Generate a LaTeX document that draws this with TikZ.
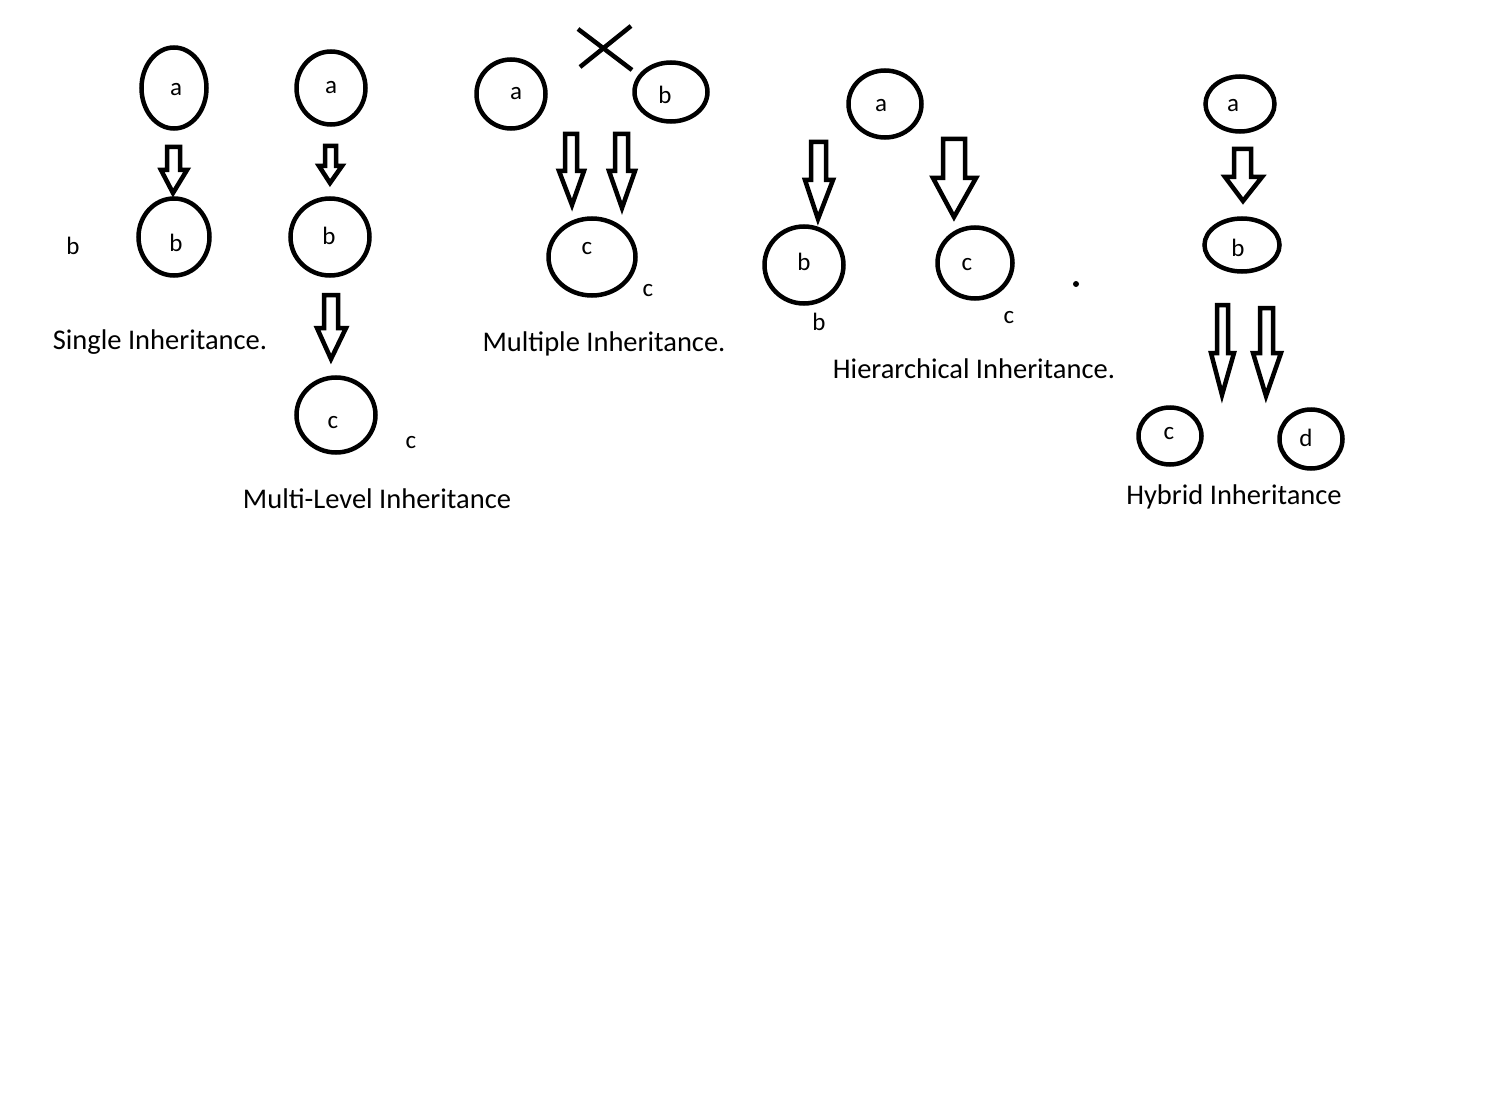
\documentclass[tikz,border=0pt]{standalone}
\usepackage{fontspec}
\setmainfont{Carlito}
\usetikzlibrary{shapes.geometric}
\tikzset{
  ell/.style={draw, line width=4.5pt, ellipse, inner sep=0pt, outer sep=0pt},
  lbl/.style={font=\fontsize{25}{30}\selectfont, inner sep=0pt, anchor=center},
  captxt/.style={font=\fontsize{28.5}{34}\selectfont, inner sep=0pt, anchor=base},
  blk/.style={draw, line width=4.5pt, fill=white, line join=miter, miter limit=12},
  xline/.style={draw, line width=4.5pt},
}
% #1 shaft left, #2 shaft right, #3 top, #4 head base, #5 head left, #6 head right, #7 tip x, #8 tip y
\newcommand\blkarrow[8]{%
  \draw[blk] (#1,#3) -- (#2,#3) -- (#2,#4) -- (#6,#4) -- (#7,#8) -- (#5,#4) -- (#1,#4) -- cycle;}
\begin{document}
\begin{tikzpicture}[x=1pt,y=-1pt]
\useasboundingbox[fill=white] (0,0) rectangle (1500,1113);

% ---------- Single inheritance ----------
\node[ell, minimum width=65pt, minimum height=81pt] (sa) at (174,88) {};
\node[ell, minimum width=71pt, minimum height=77pt] (sb) at (174,237) {};
\node[lbl] (sal) at (176,90) {a};
\node[lbl] (sbl) at (176,243) {b};
\node[lbl] (sbo) at (73,246) {b};
\blkarrow{167}{180}{147}{170}{161}{187}{173}{193}
\node[captxt] (scap) at (160,349) {Single Inheritance.};

% ---------- Multi-level inheritance ----------
\node[ell, minimum width=69pt, minimum height=73pt] (ma) at (331,88) {};
\node[ell, minimum width=79pt, minimum height=77pt] (mb) at (330,237) {};
\node[ell, minimum width=79pt, minimum height=75pt] (mc) at (336,415) {};
\node[lbl] (mal) at (331,88) {a};
\node[lbl] (mbl) at (329,236) {b};
\node[lbl] (mcl) at (333,423) {c};
\node[lbl] (mco) at (411,443) {c};
\blkarrow{325}{336}{146}{166}{319}{342}{330}{183}
\blkarrow{324}{338}{295}{328}{317}{346}{331}{359}
\node[captxt] (mcap) at (377,508) {Multi-Level Inheritance};

% ---------- Multiple inheritance ----------
\node[ell, minimum width=69pt, minimum height=69pt] (pa) at (511,94) {};
\node[ell, minimum width=73pt, minimum height=59pt] (pb) at (671,92) {};
\node[ell, minimum width=87pt, minimum height=77pt] (pc) at (592,257) {};
\node[lbl] (pal) at (516,94) {a};
\node[lbl] (pbl) at (665,95) {b};
\node[lbl] (pcl) at (587,249) {c};
\node[lbl] (pco) at (648,291) {c};
\draw[xline] (578,29) -- (632,70);
\draw[xline] (631,26) -- (580,67);
\blkarrow{565}{577}{134}{171}{559}{584}{572}{205}
\blkarrow{615}{628}{134}{171}{609}{635}{622}{208}
\node[captxt] (pcap) at (604,351) {Multiple Inheritance.};

% ---------- Hierarchical inheritance ----------
\node[ell, minimum width=73pt, minimum height=67pt] (ha) at (885,104) {};
\node[ell, minimum width=79pt, minimum height=77pt] (hb) at (804,265) {};
\node[ell, minimum width=75pt, minimum height=71pt] (hc) at (975,263) {};
\node[lbl] (hal) at (881,106) {a};
\node[lbl] (hbl) at (804,262) {b};
\node[lbl] (hcl) at (967,265) {c};
\node[lbl] (hbo) at (819,322) {b};
\node[lbl] (hco) at (1009,318) {c};
\fill (1076,284) circle (3pt);
\blkarrow{811}{826}{142}{180}{805}{833}{818}{219}
\blkarrow{943}{965}{139}{178}{933}{976}{954}{217}
\node[captxt] (hcap) at (974,378) {Hierarchical Inheritance.};

% ---------- Hybrid inheritance ----------
\node[ell, minimum width=69pt, minimum height=55pt] (ya) at (1240,104) {};
\node[ell, minimum width=75pt, minimum height=53pt] (yb) at (1242,245) {};
\node[ell, minimum width=63pt, minimum height=57pt] (yc) at (1170,436) {};
\node[ell, minimum width=63pt, minimum height=59pt] (yd) at (1311,439) {};
\node[lbl] (yal) at (1233,106) {a};
\node[lbl] (ybl) at (1238,248) {b};
\node[lbl] (ycl) at (1169,434) {c};
\node[lbl] (ydl) at (1306,438) {d};
\blkarrow{1234}{1251}{149}{177}{1225}{1262}{1243}{201}
\blkarrow{1217}{1228}{305}{353}{1211}{1234}{1222}{395}
\blkarrow{1260}{1273}{308}{353}{1253}{1281}{1266}{396}
\node[captxt] (ycap) at (1234,504) {Hybrid Inheritance};
\end{tikzpicture}
\end{document}
